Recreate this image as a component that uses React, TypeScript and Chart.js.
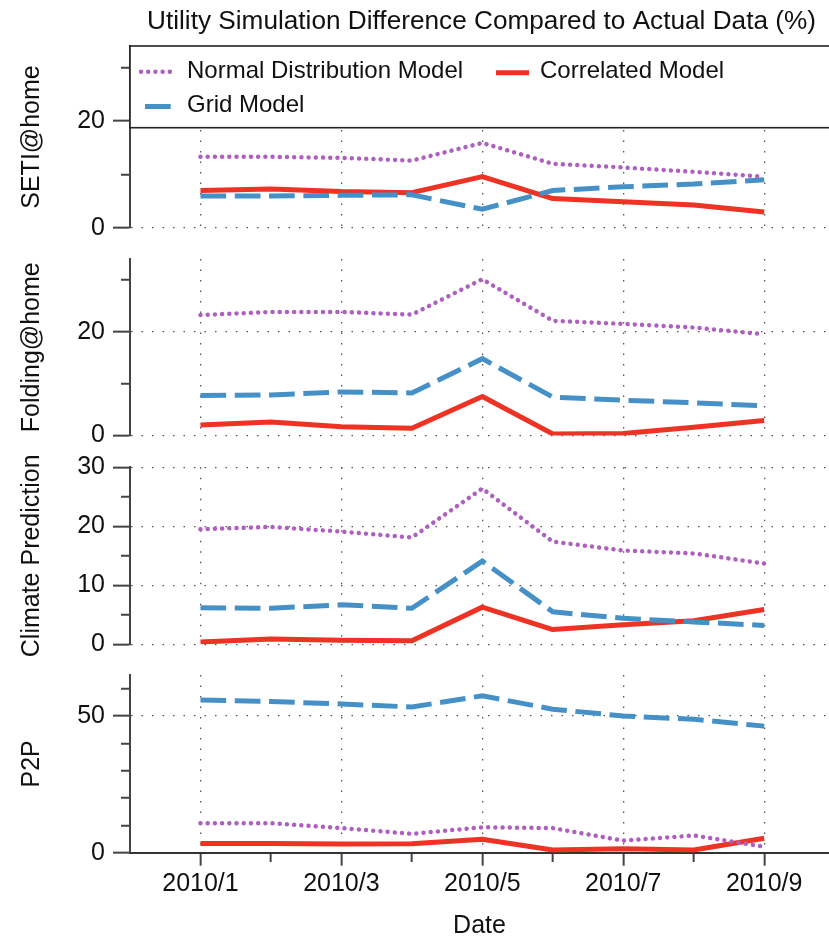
import React, { useEffect, useRef } from 'react';
import { Chart, registerables } from 'chart.js';

Chart.register(...registerables);

// ---------------- data ----------------
const TITLE = 'Utility Simulation Difference Compared to Actual Data (%)';
const X_TITLE = 'Date';
const monthLabels = ['2010/1', '2010/2', '2010/3', '2010/4', '2010/5', '2010/6', '2010/7', '2010/8', '2010/9'];
const seriesNames = ['Normal Distribution Model', 'Grid Model', 'Correlated Model'];
const panelNames = ['SETI@home', 'Folding@home', 'Climate Prediction', 'P2P'];

const setiNormal = [13.3, 13.3, 13.1, 12.6, 15.9, 12.0, 11.3, 10.5, 9.6];
const setiGrid = [6.0, 6.0, 6.1, 6.2, 3.5, 7.0, 7.7, 8.2, 9.0];
const setiCorrelated = [7.0, 7.3, 6.8, 6.6, 9.6, 5.5, 4.9, 4.3, 3.0];

const foldingNormal = [23.2, 23.8, 23.8, 23.3, 30.1, 22.1, 21.5, 20.8, 19.5];
const foldingGrid = [7.7, 7.8, 8.4, 8.2, 14.8, 7.4, 6.8, 6.3, 5.7];
const foldingCorrelated = [2.0, 2.6, 1.7, 1.4, 7.5, 0.3, 0.4, 1.6, 2.9];

const climateNormal = [19.5, 19.9, 19.1, 18.1, 26.4, 17.4, 15.9, 15.4, 13.7];
const climateGrid = [6.2, 6.1, 6.7, 6.1, 14.1, 5.5, 4.4, 3.8, 3.2];
const climateCorrelated = [0.4, 0.9, 0.7, 0.6, 6.3, 2.5, 3.3, 4.0, 5.9];

const p2pNormal = [10.8, 10.8, 9.0, 6.9, 9.3, 9.0, 4.4, 6.3, 2.2];
const p2pGrid = [55.9, 55.3, 54.4, 53.3, 57.4, 52.5, 50.0, 48.8, 46.3];
const p2pCorrelated = [3.4, 3.4, 3.2, 3.3, 4.9, 1.0, 1.4, 1.0, 5.3];

// axis settings per panel
const yMax = [34, 34, 30, 65];
const yStep = [10, 10, 5, 10];
const yLabelEvery = [20, 20, 10, 50];
const xMin = 0;
const xMax = 9.92;

const panelSeries = [
  [setiNormal, setiGrid, setiCorrelated],
  [foldingNormal, foldingGrid, foldingCorrelated],
  [climateNormal, climateGrid, climateCorrelated],
  [p2pNormal, p2pGrid, p2pCorrelated],
];

// ---------------- layout / style ----------------
const W = 829;
const H = 938;
const PANELS = [
  { top: 46, bottom: 228 },
  { top: 259, bottom: 435.5 },
  { top: 467.3, bottom: 644.3 },
  { top: 675, bottom: 852.7 },
];
const FONT = '"Liberation Sans", Arial, Helvetica, sans-serif';
const TEXT = '#111111';
const AXIS = '#444444';
const GRID = '#555555';
const NONE = 'rgba(0,0,0,0)';
const Y_TICK_LEN = 17;
const Y_MINOR_LEN = 9;
const X_TICK_LEN = 13;
const X_MINOR_LEN = 8;

const STYLES: any[] = [
  { borderColor: '#AE5FC0', borderWidth: 4.5, borderDash: [0.01, 7.2], borderCapStyle: 'round', borderJoinStyle: 'round' },
  { borderColor: '#4591C7', borderWidth: 5, borderDash: [25.7, 8.6], borderCapStyle: 'butt', borderJoinStyle: 'miter' },
  { borderColor: '#EE3224', borderWidth: 5, borderDash: [], borderCapStyle: 'butt', borderJoinStyle: 'round' },
];

const isOddMonth = (v: number) => Number.isInteger(v) && v >= 1 && v % 2 === 1;
const isMonth = (v: number) => Number.isInteger(v) && v >= 1 && v <= monthLabels.length;

const titlePlugin = {
  id: 'topTitle',
  afterDraw(chart: any) {
    const { ctx, chartArea } = chart;
    ctx.save();
    ctx.font = `26.2px ${FONT}`;
    ctx.fillStyle = TEXT;
    ctx.textAlign = 'center';
    ctx.textBaseline = 'alphabetic';
    ctx.fillText(TITLE, (chartArea.left + chartArea.right) / 2 + 2, 29.3);
    ctx.restore();
  },
};

const legendPlugin = {
  id: 'boxLegend',
  beforeDatasetsDraw(chart: any) {
    const { ctx, chartArea } = chart;
    const { left, right, top } = chartArea;
    const boxH = 81.7;
    ctx.save();
    ctx.fillStyle = '#ffffff';
    ctx.fillRect(left, top, right - left + 4, boxH);
    ctx.strokeStyle = '#222222';
    ctx.lineWidth = 1.6;
    ctx.strokeRect(left, top, right - left + 6, boxH);

    // order: Normal (row1 col1), Correlated (row1 col2), Grid (row2 col1)
    const entries = [
      { ds: 0, x0: left + 11, x1: left + 47, ly: top + 25.7, tx: left + 57, ty: top + 25.5 },
      { ds: 2, x0: left + 366, x1: left + 399, ly: top + 26.7, tx: left + 410, ty: top + 25.5 },
      { ds: 1, x0: left + 15, x1: left + 42, ly: top + 60.5, tx: left + 57, ty: top + 59.5 },
    ];
    entries.forEach((e) => {
      const s = STYLES[e.ds];
      ctx.save();
      ctx.strokeStyle = s.borderColor;
      ctx.lineWidth = s.borderWidth;
      ctx.lineCap = s.borderCapStyle;
      ctx.setLineDash(s.borderDash);
      ctx.beginPath();
      ctx.moveTo(e.x0, e.ly);
      ctx.lineTo(e.x1, e.ly);
      ctx.stroke();
      ctx.restore();
      ctx.font = `24px ${FONT}`;
      ctx.fillStyle = TEXT;
      ctx.textAlign = 'left';
      ctx.textBaseline = 'middle';
      ctx.fillText(seriesNames[e.ds], e.tx, e.ty);
    });
    ctx.restore();
  },
};

function makeConfig(p: number): any {
  const isBottom = p === panelSeries.length - 1;
  const panel = PANELS[p];
  const datasets = panelSeries[p].map((vals, si) => ({
    label: seriesNames[si],
    data: vals.map((v, i) => ({ x: i + 1, y: v })),
    ...STYLES[si],
    pointRadius: 0,
    pointHoverRadius: 0,
    tension: 0,
    fill: false,
  }));
  const every = yLabelEvery[p];
  const plugins: any[] = [];
  if (p === 0) plugins.push(legendPlugin, titlePlugin);

  return {
    type: 'line',
    data: { datasets },
    plugins,
    options: {
      animation: false,
      responsive: false,
      devicePixelRatio: 1,
      events: [],
      layout: {
        padding: {
          top: panel.top,
          bottom: isBottom ? 0 : H - panel.bottom,
          left: 0,
          right: 0,
        },
      },
      plugins: {
        legend: { display: false },
        title: { display: false },
        tooltip: { enabled: false },
      },
      scales: {
        x: {
          type: 'linear',
          position: 'bottom',
          min: xMin,
          max: xMax,
          afterFit: (s: any) => {
            s.height = isBottom ? H - panel.bottom : 0;
          },
          ticks: {
            display: isBottom,
            stepSize: 1,
            includeBounds: false,
            autoSkip: false,
            maxRotation: 0,
            minRotation: 0,
            padding: 3,
            color: TEXT,
            font: { family: FONT, size: 25 },
            callback: (v: number) => (isOddMonth(v) ? monthLabels[v - 1] : ''),
          },
          grid: {
            display: true,
            drawOnChartArea: true,
            drawTicks: isBottom,
            tickLength: X_TICK_LEN,
            tickWidth: 2,
            lineWidth: 1.3,
            color: (c: any) => (c.tick && isOddMonth(c.tick.value) ? GRID : NONE),
            tickColor: (c: any) => (c.tick && isMonth(c.tick.value) ? AXIS : NONE),
            tickBorderDash: (c: any) => (c.tick && isOddMonth(c.tick.value) ? [] : [X_MINOR_LEN, 60]),
          },
          border: { display: isBottom, color: '#333333', width: 2, dash: [1.5, 9] },
          title: {
            display: isBottom,
            text: X_TITLE,
            color: TEXT,
            font: { family: FONT, size: 25 },
            padding: { top: 0, bottom: -3 },
          },
        },
        y: {
          type: 'linear',
          position: 'left',
          min: 0,
          max: yMax[p],
          afterFit: (s: any) => {
            s.width = 130;
          },
          ticks: {
            stepSize: yStep[p],
            includeBounds: false,
            autoSkip: false,
            padding: 8,
            color: TEXT,
            font: { family: FONT, size: 25 },
            callback: (v: number) => (v % every === 0 ? String(v) : ''),
          },
          grid: {
            display: true,
            drawOnChartArea: true,
            drawTicks: true,
            tickLength: Y_TICK_LEN,
            tickWidth: 2,
            lineWidth: 1.3,
            color: (c: any) => (c.tick && c.tick.value % every === 0 ? GRID : NONE),
            tickColor: AXIS,
            tickBorderDash: (c: any) =>
              c.tick && c.tick.value % every === 0 ? [] : [0, Y_TICK_LEN - Y_MINOR_LEN, Y_MINOR_LEN + 2, 60],
          },
          border: { display: true, color: AXIS, width: 2, dash: [1.5, 9] },
          title: {
            display: true,
            text: panelNames[p],
            color: TEXT,
            font: { family: FONT, size: 25 },
            padding: { top: 17, bottom: 0 },
          },
        },
      },
    },
  };
}

export default function App() {
  const canvases = useRef<(HTMLCanvasElement | null)[]>([]);

  useEffect(() => {
    const charts = panelNames.map((_, i) => new Chart(canvases.current[i] as HTMLCanvasElement, makeConfig(i)));
    return () => {
      charts.forEach((c) => c.destroy());
    };
  }, []);

  return (
    <div style={{ position: 'absolute', left: 0, top: 0, width: W, height: H, background: '#ffffff', overflow: 'hidden' }}>
      {panelNames.map((name, i) => (
        <canvas
          key={name}
          ref={(el) => {
            canvases.current[i] = el;
          }}
          width={W}
          height={H}
          style={{ position: 'absolute', left: 0, top: 0, width: W, height: H }}
        />
      ))}
    </div>
  );
}
